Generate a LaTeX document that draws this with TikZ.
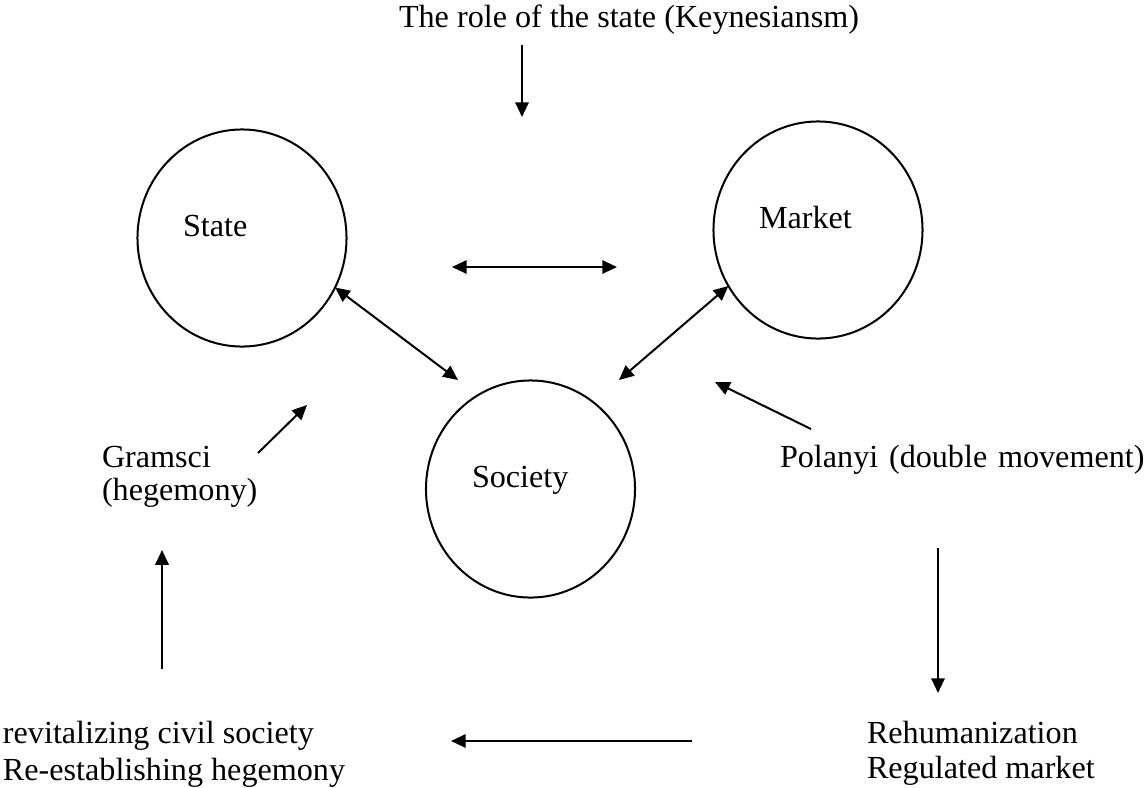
\documentclass[tikz,border=0pt]{standalone}
\usepackage{fontspec}
\setmainfont{Liberation Serif}
\usetikzlibrary{arrows.meta,shapes.geometric}
\begin{document}
\begin{tikzpicture}[x=0.3731pt,y=-0.3731pt,
  every node/.style={font=\fontsize{12}{13.8}\selectfont,inner sep=0pt,outer sep=0pt},
  txt/.style={anchor=base west},
  ring/.style={draw,ellipse,line width=0.75pt,minimum width=78pt,minimum height=81pt},
  conn/.style={line width=0.75pt,-{Triangle[length=5.5pt,width=5pt]}},
  dconn/.style={line width=0.75pt,{Triangle[length=5.5pt,width=5pt]}-{Triangle[length=5.5pt,width=5pt]}}]
\useasboundingbox (0,0) rectangle (1147,787);
% circles
\node[ring] (state) at (242,238) {};
\node[ring] (market) at (818,230) {};
\node[ring] (society) at (530.5,489) {};
% labels
\node[txt] (statelbl) at (183,236) {State};
\node[txt] (marketlbl) at (759,228) {Market};
\node[txt] (societylbl) at (472,487) {Society};
\node[txt] (keynes) at (399,27) {The role of the state (Keynesiansm)};
\node[txt] (gramsci1) at (102,467) {Gramsci};
\node[txt] (gramsci2) at (102,500) {(hegemony)};
\node[txt] (polanyi) at (780,467) {\makebox[136pt][s]{Polanyi (double movement)}};
\node[txt] (revit1) at (3,743) {revitalizing civil society};
\node[txt] (revit2) at (3,780) {Re-establishing hegemony};
\node[txt] (rehum1) at (867,743) {Rehumanization};
\node[txt] (rehum2) at (867,778) {Regulated market};
% coordinates
\coordinate (kA) at (522,45);
\coordinate (kB) at (522,117);
\coordinate (smA) at (452,267);
\coordinate (smB) at (617,267);
\coordinate (socL) at (458,380);
\coordinate (socR) at (619,380);
\coordinate (gA) at (258,453);
\coordinate (gB) at (307,405);
\coordinate (pA) at (811,429);
\coordinate (pB) at (715,382);
\coordinate (uA) at (162,669);
\coordinate (uB) at (162,550);
\coordinate (dA) at (938,548);
\coordinate (dB) at (938,693);
\coordinate (lA) at (692,741);
\coordinate (lB) at (451,741);
% connectors
\draw[conn] (kA) -- (kB);
\draw[dconn] (smA) -- (smB);
\draw[dconn] (state.-28) -- (socL);
\draw[dconn] (market.212.5) -- (socR);
\draw[conn] (gA) -- (gB);
\draw[conn] (pA) -- (pB);
\draw[conn] (uA) -- (uB);
\draw[conn] (dA) -- (dB);
\draw[conn] (lA) -- (lB);
\end{tikzpicture}
\end{document}
